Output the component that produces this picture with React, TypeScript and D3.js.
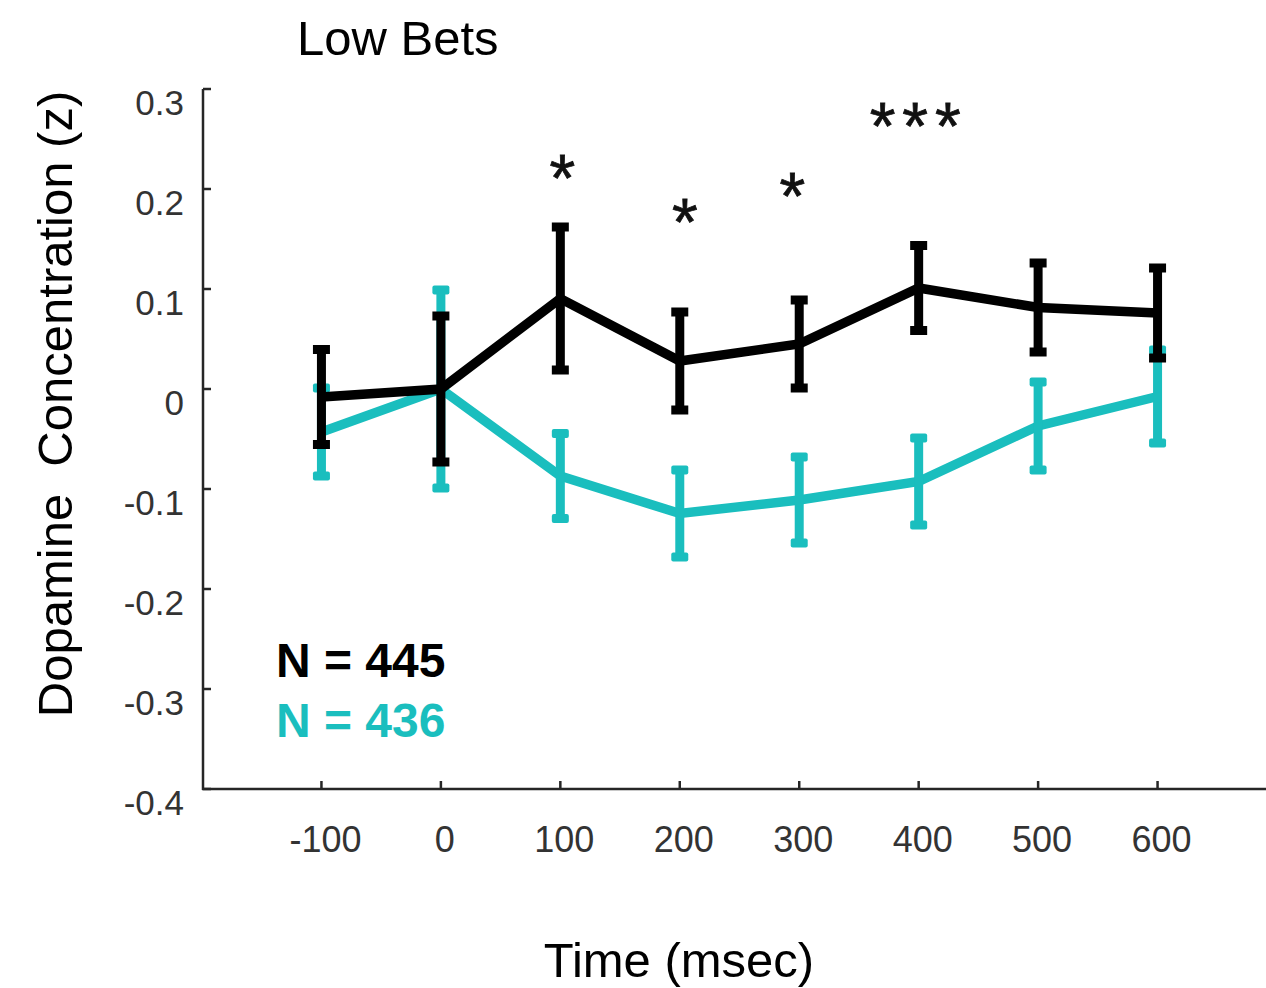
import React from "react";
import * as d3 from "d3";

const times = [-100, 0, 100, 200, 300, 400, 500, 600];
const blackMean = [-0.008, 0, 0.0905, 0.028, 0.045, 0.101, 0.0815, 0.076];
const blackErr = [0.0475, 0.073, 0.0715, 0.049, 0.044, 0.0425, 0.0445, 0.045];
const cyanMean = [-0.043, 0, -0.087, -0.1245, -0.111, -0.0925, -0.037, -0.0075];
const cyanErr = [0.044, 0.099, 0.0425, 0.0435, 0.043, 0.0435, 0.044, 0.0465];

const starTimes = [100, 200, 300, 400];
const starLabels = ["*", "*", "*", "***"];
const starValues = [0.22, 0.176, 0.202, 0.272];
const starShift = [2, 5, -7, -3];

const xTicks = [-100, 0, 100, 200, 300, 400, 500, 600];
const yTicks = [0.3, 0.2, 0.1, 0, -0.1, -0.2, -0.3, -0.4];
const yTickLabels = ["0.3", "0.2", "0.1", "0", "-0.1", "-0.2", "-0.3", "-0.4"];

const BLACK = "#000000";
const CYAN = "#1ABEBE";
const AXIS = "#262626";
const FONT = "'Liberation Sans', Arial, Helvetica, sans-serif";

export default function App() {
  const x = d3.scaleLinear().domain([-200, 700]).range([202, 1277]);
  const y = d3.scaleLinear().domain([-0.4, 0.3]).range([789, 89]);
  const line = d3
    .line<number>()
    .x((_, i) => x(times[i]))
    .y((d) => y(d));

  const series = [
    { mean: cyanMean, err: cyanErr, color: CYAN },
    { mean: blackMean, err: blackErr, color: BLACK },
  ];

  const capW = 17;
  const capH = 9;
  const starSize = 66;

  return (
    <svg
      width={1266}
      height={988}
      style={{ position: "absolute", left: 0, top: 0, background: "#fff" }}
      fontFamily={FONT}
    >
      {/* axes */}
      <line x1={203} x2={203} y1={89} y2={790} stroke={AXIS} strokeWidth={2.5} />
      <line x1={202} x2={1266} y1={789} y2={789} stroke={AXIS} strokeWidth={2.5} />
      {yTicks.map((t, i) => (
        <g key={"yt" + i}>
          <line x1={203} x2={211} y1={y(t)} y2={y(t)} stroke={AXIS} strokeWidth={2.5} />
          <text
            x={184}
            y={y(t) + 13}
            textAnchor="end"
            dominantBaseline="central"
            fontSize={35}
            fill="#333"
          >
            {yTickLabels[i]}
          </text>
        </g>
      ))}
      {xTicks.map((t) => (
        <g key={"xt" + t}>
          <line x1={x(t)} x2={x(t)} y1={789} y2={781} stroke={AXIS} strokeWidth={2.5} />
          <text
            x={x(t) + 4}
            y={839}
            textAnchor="middle"
            dominantBaseline="central"
            fontSize={36}
            fill="#333"
          >
            {t}
          </text>
        </g>
      ))}

      {/* series */}
      {series.map((s, si) => (
        <g key={"s" + si}>
          <path
            d={line(s.mean) || ""}
            fill="none"
            stroke={s.color}
            strokeWidth={9.5}
            strokeLinejoin="miter"
          />
          {s.mean.map((m, i) => {
            const cx = x(times[i]);
            const top = y(m + s.err[i]);
            const bot = y(m - s.err[i]);
            return (
              <g key={"e" + i}>
                <line x1={cx} x2={cx} y1={top} y2={bot} stroke={s.color} strokeWidth={9} />
                <rect
                  x={cx - capW / 2}
                  y={top - capH / 2}
                  width={capW}
                  height={capH}
                  fill={s.color}
                  rx={si === 0 ? 2 : 0}
                />
                <rect
                  x={cx - capW / 2}
                  y={bot - capH / 2}
                  width={capW}
                  height={capH}
                  fill={s.color}
                  rx={si === 0 ? 2 : 0}
                />
              </g>
            );
          })}
        </g>
      ))}

      {/* significance stars */}
      {starTimes.map((t, i) => (
        <text
          key={"st" + i}
          x={x(t) + starShift[i] + (starLabels[i].length > 1 ? 3 : 0)}
          y={y(starValues[i]) + starSize * 0.49}
          textAnchor="middle"
          fontSize={starSize}
          letterSpacing={starLabels[i].length > 1 ? 7 : 0}
          fill="#111"
          stroke="#111"
          strokeWidth={0.8}
        >
          {starLabels[i]}
        </text>
      ))}

      {/* legend counts */}
      <text x={276} y={677} fontSize={48} fontWeight="bold" fill={BLACK}>
        N = 445
      </text>
      <text x={276} y={737} fontSize={48} fontWeight="bold" fill={CYAN}>
        N = 436
      </text>

      {/* title and axis labels */}
      <text x={297} y={55} fontSize={49} fill="#000">
        Low Bets
      </text>
      <text x={679} y={977} textAnchor="middle" fontSize={49} fill="#000">
        Time (msec)
      </text>
      <text
        transform="translate(72,404) rotate(-90)"
        textAnchor="middle"
        fontSize={49}
        fill="#000"
        style={{ whiteSpace: "pre" }}
        xmlSpace="preserve"
      >
        {"Dopamine  Concentration (z)"}
      </text>
    </svg>
  );
}
